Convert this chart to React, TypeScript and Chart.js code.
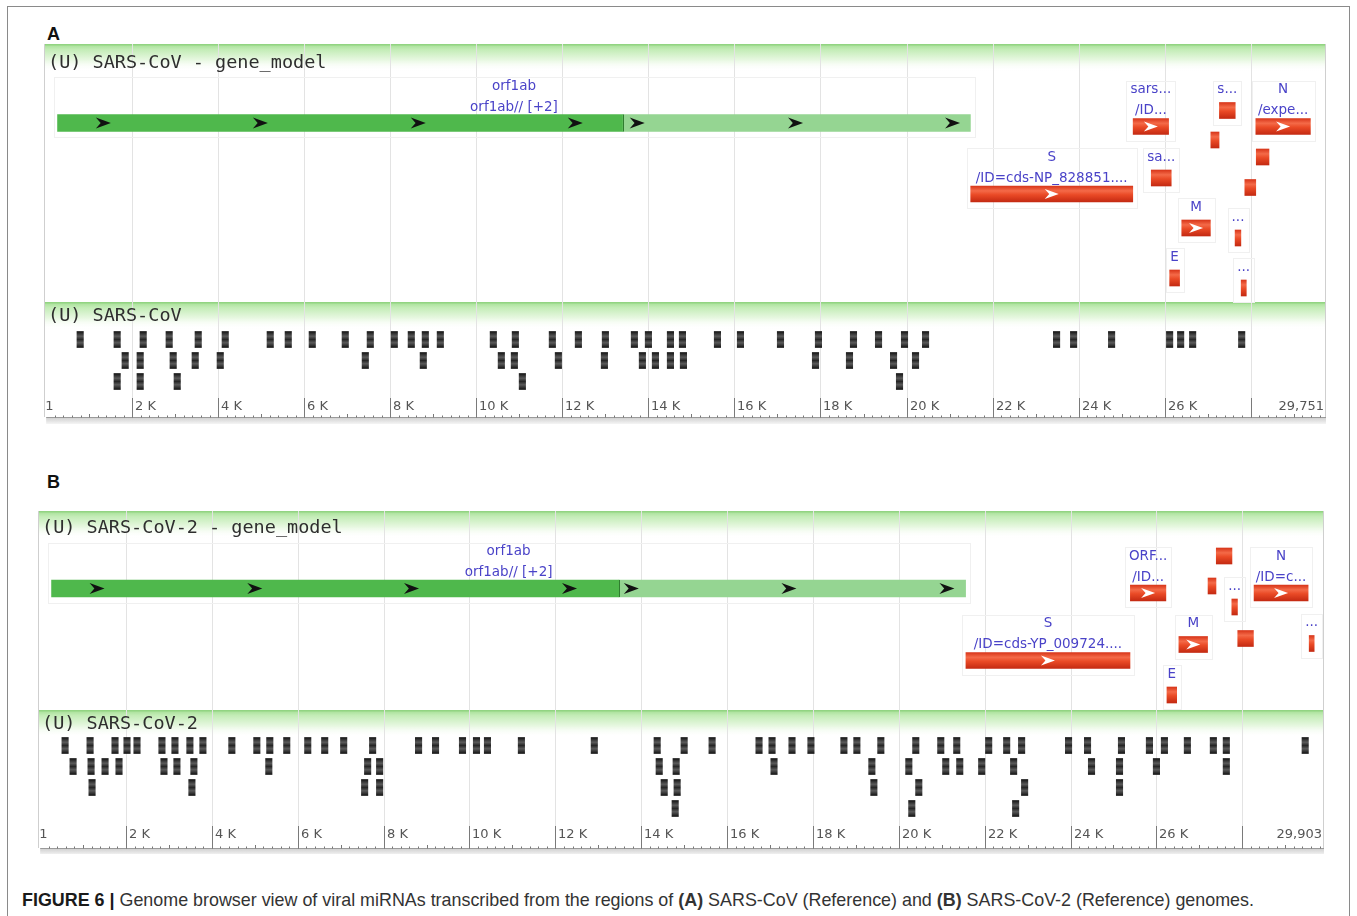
import React, { useEffect, useRef } from "react";
import { Chart, registerables } from "chart.js";

Chart.register(...registerables);

// ================= Panel A : SARS-CoV (Reference) =================
const lengthA = 29751;
const endLabelA = "29,751";
const geneTitleA = "(U) SARS-CoV - gene_model";
const mirTitleA = "(U) SARS-CoV";
const orf1abA = [265, 13398, 21485]; // start, frameshift, end
const orf1abRowA = 79;
const orf1abArrowsA = [1330, 4980, 8650, 12300, 13740, 17420, 21070];
const orf1abLabelA = ["orf1ab", "orf1ab// [+2]"];

const geneStartA = [21492, 25268, 25689, 26117, 26398, 27074, 27273, 27638, 27779, 27864, 28120, 28130];
const geneEndA = [25259, 26092, 26153, 26347, 27063, 27265, 27641, 27772, 27898, 28118, 29388, 28426];
const geneRowA = [150, 82.5, 134, 234, 184, 96, 66.5, 194, 244, 143.5, 82.5, 113];
const geneLabelA = [
  ["S", "/ID=cds-NP_828851...."], ["sars...", "/ID..."], ["sa..."], ["E"], ["M"], [],
  ["s..."], ["..."], ["..."], [], ["N", "/expe..."], [],
];
const geneArrowA = [true, true, false, false, true, false, false, false, false, false, true, false];

const mirA1 = [791, 1651, 2256, 2860, 3535, 4163, 5209, 5628, 6186, 6953, 7535, 8093, 8488, 8814, 9163, 10395, 10907, 11767, 12372, 13000, 13674, 14000, 14512, 14791, 15605, 16140, 17070, 17953, 18767, 19349, 19953, 20442, 23488, 23884, 24767, 26116, 26372, 26651, 27791];
const mirA2 = [1837, 2186, 2953, 3465, 4047, 7419, 8767, 10581, 10884, 11907, 12977, 13860, 14163, 14512, 14814, 17884, 18674, 19698, 20209];
const mirA3 = [1651, 2186, 3047, 11070, 19837];

// ================= Panel B : SARS-CoV-2 (Reference) =================
const lengthB = 29903;
const endLabelB = "29,903";
const geneTitleB = "(U) SARS-CoV-2 - gene_model";
const mirTitleB = "(U) SARS-CoV-2";
const orf1abB = [266, 13483, 21555];
const orf1abRowB = 77.5;
const orf1abArrowsB = [1326, 5000, 8650, 12330, 13770, 17440, 21120];
const orf1abLabelB = ["orf1ab", "orf1ab// [+2]"];

const geneStartB = [21563, 25393, 26245, 26523, 27202, 27394, 27756, 27894, 28274, 29558];
const geneEndB = [25384, 26220, 26472, 27191, 27387, 27759, 27887, 28259, 29533, 29674];
const geneRowB = [149.5, 82, 184, 133.5, 75, 45, 96, 127.5, 82, 132.5];
const geneLabelB = [
  ["S", "/ID=cds-YP_009724...."], ["ORF...", "/ID..."], ["E"], ["M"], [], [], ["..."], [],
  ["N", "/ID=c..."], ["..."],
];
const geneArrowB = [true, true, false, true, false, false, false, false, true, false];

const mirB1 = [581, 1163, 1744, 2023, 2256, 2837, 3140, 3488, 3791, 4465, 5047, 5349, 5744, 6233, 6628, 7070, 7744, 8814, 9209, 9837, 10163, 10419, 11209, 12907, 14372, 15000, 15651, 16744, 17047, 17512, 17953, 18721, 19023, 19581, 20395, 20977, 21349, 22093, 22512, 22860, 23953, 24395, 25186, 25837, 26186, 26721, 27326, 27628, 29465];
const mirB2 = [767, 1186, 1512, 1837, 2884, 3186, 3581, 5326, 7628, 7907, 14419, 14814, 17093, 19372, 20233, 21093, 21419, 21930, 22674, 24488, 25140, 26000, 27628];
const mirB3 = [1209, 3535, 7558, 7907, 14535, 14837, 19419, 20465, 22930, 25140];
const mirB4 = [14791, 20302, 22721];

// ================= Ruler =================
const rulerTicks = [2000, 4000, 6000, 8000, 10000, 12000, 14000, 16000, 18000, 20000, 22000, 24000, 26000, 28000];
const rulerLabels = ["2 K", "4 K", "6 K", "8 K", "10 K", "12 K", "14 K", "16 K", "18 K", "20 K", "22 K", "24 K", "26 K", ""];

// ================= Layout (style) =================
const MIR_HALF = 75;
const LABEL_FONT = '13.5px "DejaVu Sans", sans-serif';
const TITLE_FONT = '18.5px "DejaVu Sans Mono", monospace';
const RULER_FONT = '13px "DejaVu Sans", sans-serif';

type Panel = {
  left: number; top: number; width: number; height: number;
  length: number; endLabel: string; geneTitle: string; mirTitle: string;
  orf: number[]; orfRow: number; orfArrows: number[]; orfLabel: string[];
  starts: number[]; ends: number[]; rows: number[]; labels: string[][]; arrows: boolean[];
  mirs: number[][];
  titleY: number; header2: number; mirRow0: number; mirStep: number;
  tickTop: number; labelY: number; base: number;
};

const panelA: Panel = {
  left: 44, top: 44, width: 1282, height: 380,
  length: lengthA, endLabel: endLabelA, geneTitle: geneTitleA, mirTitle: mirTitleA,
  orf: orf1abA, orfRow: orf1abRowA, orfArrows: orf1abArrowsA, orfLabel: orf1abLabelA,
  starts: geneStartA, ends: geneEndA, rows: geneRowA, labels: geneLabelA, arrows: geneArrowA,
  mirs: [mirA1, mirA2, mirA3],
  titleY: 19, header2: 258, mirRow0: 295.5, mirStep: 21,
  tickTop: 354, labelY: 363, base: 373,
};

const panelB: Panel = {
  left: 38, top: 511, width: 1286, height: 343,
  length: lengthB, endLabel: endLabelB, geneTitle: geneTitleB, mirTitle: mirTitleB,
  orf: orf1abB, orfRow: orf1abRowB, orfArrows: orf1abArrowsB, orfLabel: orf1abLabelB,
  starts: geneStartB, ends: geneEndB, rows: geneRowB, labels: geneLabelB, arrows: geneArrowB,
  mirs: [mirB1, mirB2, mirB3, mirB4],
  titleY: 17, header2: 199, mirRow0: 234.5, mirStep: 21,
  tickTop: 315, labelY: 324, base: 337,
};

function labelOffsets(n: number): number[] {
  return n === 2 ? [-37, -16] : [-21];
}

function chevron(ctx: CanvasRenderingContext2D, x: number, y: number, w: number, h: number, color: string) {
  ctx.beginPath();
  ctx.moveTo(x - w / 2, y - h / 2);
  ctx.lineTo(x + w / 2, y);
  ctx.lineTo(x - w / 2, y + h / 2);
  ctx.lineTo(x - w / 2 + w * 0.32, y);
  ctx.closePath();
  ctx.fillStyle = color;
  ctx.fill();
}

function header(ctx: CanvasRenderingContext2D, y: number, w: number) {
  const g = ctx.createLinearGradient(0, y, 0, y + 27);
  g.addColorStop(0, "#a3de93");
  g.addColorStop(0.2, "#c3ecb6");
  g.addColorStop(0.6, "#e8f8e2");
  g.addColorStop(1, "rgba(255,255,255,0)");
  ctx.fillStyle = g;
  ctx.fillRect(0, y, w, 27);
  ctx.fillStyle = "#92d482";
  ctx.fillRect(0, y, w, 1.5);
}

function makePlugin(p: Panel) {
  return {
    id: "browser",
    beforeDatasetsDraw(chart: any) {
      const ctx: CanvasRenderingContext2D = chart.ctx;
      const xs = chart.scales.x, ys = chart.scales.y;
      const X = (v: number) => xs.getPixelForValue(v);
      const Y = (v: number) => ys.getPixelForValue(v);
      const W = chart.width;
      ctx.save();
      header(ctx, Y(0), W);
      header(ctx, Y(p.header2), W);
      // grid lines
      ctx.strokeStyle = "#e3e3e3";
      ctx.lineWidth = 1;
      rulerTicks.forEach((t) => {
        const x = Math.round(X(t)) + 0.5;
        ctx.beginPath(); ctx.moveTo(x, Y(0)); ctx.lineTo(x, Y(p.tickTop)); ctx.stroke();
      });
      // side borders
      ctx.strokeStyle = "#cfcfcf";
      ctx.beginPath(); ctx.moveTo(0.5, Y(0)); ctx.lineTo(0.5, Y(p.base)); ctx.stroke();
      ctx.beginPath(); ctx.moveTo(W - 0.5, Y(0)); ctx.lineTo(W - 0.5, Y(p.base)); ctx.stroke();
      // titles
      ctx.font = TITLE_FONT;
      ctx.fillStyle = "#2e2e2e";
      ctx.textBaseline = "middle";
      ctx.textAlign = "left";
      ctx.fillText(p.geneTitle, 4, Y(p.titleY));
      ctx.fillText(p.mirTitle, 4, Y(p.header2 + 14));
      // feature label boxes
      ctx.font = LABEL_FONT;
      ctx.strokeStyle = "#f0f0f0";
      const boxes: [number, number, number, string[]][] = p.starts.map((s, i) => [s, p.ends[i], p.rows[i], p.labels[i]]);
      boxes.push([p.orf[0], p.orf[2], p.orfRow, p.orfLabel]);
      boxes.forEach(([s, e, r, labs]) => {
        if (!labs.length) return;
        const x0 = X(s), x1 = X(e), cx = (x0 + x1) / 2, cy = Y(r);
        const mw = Math.max(...labs.map((l) => ctx.measureText(l).width));
        const bx0 = Math.min(x0, cx - mw / 2) - 4;
        const bx1 = Math.max(x1, cx + mw / 2) + 4;
        const by0 = cy + labelOffsets(labs.length)[0] - 9;
        const by1 = cy + 14;
        ctx.strokeRect(Math.round(bx0) + 0.5, Math.round(by0) + 0.5, Math.round(bx1 - bx0), Math.round(by1 - by0));
      });
      // ruler
      const base = Math.round(Y(p.base)) + 0.5;
      const band = ctx.createLinearGradient(0, base, 0, base + 6);
      band.addColorStop(0, "#cfcfcf");
      band.addColorStop(1, "#f2f2f2");
      ctx.fillStyle = band;
      ctx.fillRect(X(0), base + 0.5, W - X(0), 6);
      ctx.strokeStyle = "#9a9a9a";
      ctx.beginPath(); ctx.moveTo(X(0), base); ctx.lineTo(W, base); ctx.stroke();
      ctx.strokeStyle = "#777";
      for (let t = 200; t < p.length; t += 200) {
        const x = Math.round(X(t)) + 0.5;
        const h = t % 1000 === 0 ? 3.5 : 2;
        ctx.beginPath(); ctx.moveTo(x, base); ctx.lineTo(x, base - h); ctx.stroke();
      }
      ctx.font = RULER_FONT;
      ctx.fillStyle = "#555";
      ctx.textBaseline = "middle";
      rulerTicks.forEach((t, i) => {
        const x = Math.round(X(t)) + 0.5;
        ctx.strokeStyle = "#7a7a7a";
        ctx.beginPath(); ctx.moveTo(x, Y(p.tickTop)); ctx.lineTo(x, base); ctx.stroke();
        if (rulerLabels[i]) ctx.fillText(rulerLabels[i], x + 2.5, Y(p.labelY));
      });
      ctx.fillText("1", X(1) - 1, Y(p.labelY));
      ctx.textAlign = "right";
      ctx.fillText(p.endLabel, W - 2, Y(p.labelY));
      ctx.restore();
    },
    afterDatasetsDraw(chart: any) {
      const ctx: CanvasRenderingContext2D = chart.ctx;
      const xs = chart.scales.x, ys = chart.scales.y;
      const X = (v: number) => xs.getPixelForValue(v);
      const Y = (v: number) => ys.getPixelForValue(v);
      ctx.save();
      // orf1ab frameshift boundary + arrows
      const bx = Math.round(X(p.orf[1])) + 0.5;
      ctx.strokeStyle = "#2f7d2f";
      ctx.beginPath(); ctx.moveTo(bx, Y(p.orfRow) - 8.5); ctx.lineTo(bx, Y(p.orfRow) + 8.5); ctx.stroke();
      p.orfArrows.forEach((a) => chevron(ctx, X(a), Y(p.orfRow), 15, 11, "#111"));
      // red gene arrows
      p.starts.forEach((s, i) => {
        if (p.arrows[i]) chevron(ctx, (X(s) + X(p.ends[i])) / 2, Y(p.rows[i]), 14, 10, "#ffffff");
      });
      // labels
      ctx.font = LABEL_FONT;
      ctx.fillStyle = "#4a43c8";
      ctx.textAlign = "center";
      ctx.textBaseline = "middle";
      const all: [number, number, number, string[]][] = p.starts.map((s, i) => [s, p.ends[i], p.rows[i], p.labels[i]]);
      all.push([p.orf[0], p.orf[2], p.orfRow, p.orfLabel]);
      all.forEach(([s, e, r, labs]) => {
        const offs = labelOffsets(labs.length);
        labs.forEach((l, k) => ctx.fillText(l, (X(s) + X(e)) / 2, Y(r) + offs[k]));
      });
      ctx.restore();
    },
  };
}

function barCenter(c: any): number {
  const chart = c.chart;
  if (!c.raw || !chart || !chart.scales || !chart.scales.y) return NaN;
  return chart.scales.y.getPixelForValue(c.raw.y);
}

function redFill(c: any) {
  const cy = barCenter(c);
  if (!Number.isFinite(cy)) return "#e8452a";
  const g = c.chart.ctx.createLinearGradient(0, cy - 8, 0, cy + 8);
  g.addColorStop(0, "#d8361a");
  g.addColorStop(0.3, "#f46a48");
  g.addColorStop(0.55, "#ea4a26");
  g.addColorStop(1, "#c42a12");
  return g;
}

function mirFill(c: any) {
  const cy = barCenter(c);
  if (!Number.isFinite(cy)) return "#333";
  const g = c.chart.ctx.createLinearGradient(0, cy - 8, 0, cy + 8);
  g.addColorStop(0, "#141414");
  g.addColorStop(0.3, "#5a5a5a");
  g.addColorStop(0.5, "#262626");
  g.addColorStop(0.7, "#5a5a5a");
  g.addColorStop(1, "#141414");
  return g;
}

function BrowserPanel({ p }: { p: Panel }) {
  const ref = useRef<HTMLCanvasElement | null>(null);
  useEffect(() => {
    if (!ref.current) return;
    const mirData: { x: number[]; y: number }[] = [];
    p.mirs.forEach((row, ri) =>
      row.forEach((pos) => mirData.push({ x: [pos - MIR_HALF, pos + MIR_HALF], y: p.mirRow0 + ri * p.mirStep }))
    );
    const chart = new Chart(ref.current, {
      type: "bar",
      data: {
        datasets: [
          {
            data: [{ x: [p.orf[0], p.orf[1]], y: p.orfRow }] as any,
            backgroundColor: "#4fb84c", barThickness: 17, grouped: false, borderWidth: 0,
          },
          {
            data: [{ x: [p.orf[1], p.orf[2]], y: p.orfRow }] as any,
            backgroundColor: "#95d592", barThickness: 17, grouped: false, borderWidth: 0,
          },
          {
            data: p.starts.map((s, i) => ({ x: [s, p.ends[i]], y: p.rows[i] })) as any,
            backgroundColor: redFill as any, barThickness: 16, grouped: false, borderWidth: 0,
          },
          {
            data: mirData as any,
            backgroundColor: mirFill as any, barThickness: 16, grouped: false, borderWidth: 0,
          },
        ],
      },
      options: {
        indexAxis: "y",
        animation: false,
        responsive: false,
        devicePixelRatio: 1,
        events: [],
        layout: { padding: 0 },
        plugins: { legend: { display: false }, tooltip: { enabled: false } },
        scales: {
          x: { type: "linear", min: -50, max: p.length, display: false },
          y: { type: "linear", min: 0, max: p.height, reverse: true, display: false, offset: false },
        },
      } as any,
      plugins: [makePlugin(p) as any],
    });
    chart.update();
    return () => chart.destroy();
  }, [p]);
  return (
    <canvas
      ref={ref}
      width={p.width}
      height={p.height}
      style={{ position: "absolute", left: p.left, top: p.top, width: p.width, height: p.height }}
    />
  );
}

export default function App() {
  return (
    <div
      style={{
        position: "absolute", left: 0, top: 0, width: 1357, height: 916, overflow: "hidden",
        background: "#fff", fontFamily: '"Liberation Sans", Arial, sans-serif', color: "#222",
      }}
    >
      <div
        style={{
          position: "absolute", left: 7, top: 6, width: 1341, height: 930,
          border: "1.5px solid #8a8a8a", borderBottom: "none",
        }}
      />
      <div style={{ position: "absolute", left: 47, top: 24, fontSize: 18, lineHeight: "20px", fontWeight: "bold", color: "#111" }}>A</div>
      <div style={{ position: "absolute", left: 47, top: 472, fontSize: 18, lineHeight: "20px", fontWeight: "bold", color: "#111" }}>B</div>
      <BrowserPanel p={panelA} />
      <BrowserPanel p={panelB} />
      <div
        style={{
          position: "absolute", left: 22, top: 890, fontSize: 17.9, lineHeight: "20px", whiteSpace: "nowrap", color: "#333",
        }}
      >
        <b style={{ color: "#1a1a1a" }}>FIGURE 6 |</b> Genome browser view of viral miRNAs transcribed from the regions of{" "}
        <b>(A)</b> SARS-CoV (Reference) and <b>(B)</b> SARS-CoV-2 (Reference) genomes.
      </div>
    </div>
  );
}
